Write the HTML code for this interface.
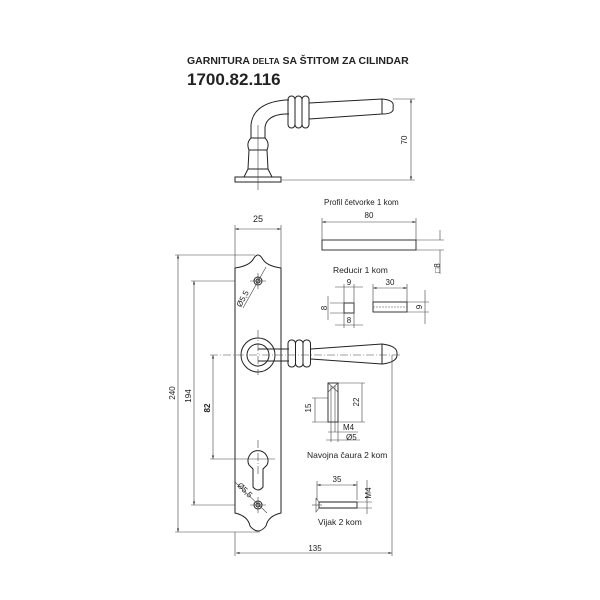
<!DOCTYPE html>
<html><head><meta charset="utf-8"><style>
body{margin:0;background:#fff}
svg{display:block}
text{font-family:"Liberation Sans",sans-serif;fill:#222}
.d{font-size:8px;fill:#444}
</style></head><body>
<svg width="600" height="600" viewBox="0 0 600 600" xmlns="http://www.w3.org/2000/svg">
<defs>
<marker id="a" viewBox="0 0 10 10" refX="10" refY="5" markerWidth="6" markerHeight="6" orient="auto-start-reverse"><path d="M0,2L10,5L0,8z" fill="#333"/></marker>
</defs>
<text x="187" y="64" font-size="10.5" font-weight="bold">GARNITURA <tspan font-size="8.5">DELTA</tspan> SA ŠTITOM ZA CILINDAR</text>
<text x="187" y="85" font-size="17" font-weight="bold">1700.82.116</text>

<g fill="none" stroke="#222" stroke-width="1">
<rect x="235" y="177" width="46" height="5"/>
<path d="M244,177 L248,169 L268,169 L272,177"/>
<path d="M248,169 L249,150 L267,150 L268,169"/>
<path d="M249,150 Q246,143 251,138 L265,138 Q270,143 267,150"/>
<path d="M251,138 L251,125 Q253,103 285,100 L289,100"/>
<path d="M265,138 L265,127 Q267,115 285,114 L289,114"/>
<rect x="288" y="96" width="7" height="32" rx="3.5"/>
<rect x="295" y="96" width="7" height="32" rx="3.5"/>
<rect x="302" y="96" width="7" height="32" rx="3.5"/>
<path d="M309,103 L382,99 L382,114 L309,119"/>
<path d="M382,99 Q395,100 393,107 Q395,114 382,114"/>

<path d="M235,268 Q250,266 254,258 Q258,252 262,258 Q266,266 281,268 L281,513 Q268,516 266,526 Q258,536 250,526 Q248,516 235,513 Z"/>
<circle cx="258" cy="281" r="4"/><circle cx="258" cy="281" r="2"/>
<circle cx="258" cy="505" r="4"/><circle cx="258" cy="505" r="2"/>
<path d="M258,459 m-9,6 A10,10 0 1 1 267,465 L263,469 L263,487 Q258,493 253,487 L253,469 Z"/>
<circle cx="258" cy="355" r="17"/><circle cx="258" cy="355" r="11"/>
<path d="M258,349 L289,349 M258,361 L289,361"/>
<rect x="288" y="340" width="7.5" height="27" rx="3.5"/>
<rect x="295.5" y="340" width="7.5" height="27" rx="3.5"/>
<rect x="303" y="340" width="7.5" height="27" rx="3.5"/>
<path d="M311,349 L382,344 L382,364 L311,359"/>
<path d="M382,344 Q398,346 397,354 Q398,362 382,364"/>
</g>

<g fill="none" stroke="#444" stroke-width="0.6">
<path d="M258,125 V190"/>
<path d="M411,99 V180" marker-start="url(#a)" marker-end="url(#a)"/>
<path d="M393,99 H415 M282,180 H415"/>
<path d="M235,268 V225 M281,268 V225"/>
<path d="M235,229 H281" marker-start="url(#a)" marker-end="url(#a)"/>
<path d="M178,255 V532" marker-start="url(#a)" marker-end="url(#a)"/>
<path d="M194,281 V505" marker-start="url(#a)" marker-end="url(#a)"/>
<path d="M213,355 V459" marker-start="url(#a)" marker-end="url(#a)"/>
<path d="M175,255 H255 M191,281 H235 M191,505 H235 M175,532 H260 M210,459 H275"/>
<path d="M210,355 H402 M258,330 V375" stroke-dasharray="8,2,1,2"/>
<path d="M258,440 V475" stroke-dasharray="8,2,1,2"/>
<path d="M250,281 H266 M258,273 V289 M250,505 H266 M258,497 V513"/>
<path d="M266,267 L243,308 M235,482 L267,513"/>
<path d="M235,532 V556 M392,355 V556"/>
<path d="M236,553 H392" marker-start="url(#a)" marker-end="url(#a)"/>

<rect x="322" y="240" width="94" height="10" stroke="#222" stroke-width="0.9"/>
<path d="M322,240 V218 M416,240 V218"/>
<path d="M322,222 H416" marker-start="url(#a)" marker-end="url(#a)"/>
<path d="M416,240 H444 M416,250 H444 M440,230 V240 M440,250 V274" />

<rect x="344" y="303" width="10" height="10" stroke="#222" stroke-width="0.9"/>
<path d="M344,303 V284 M354,303 V284 M335,287 H363 M344,313 V328 M354,313 V328 M335,325 H363 M330,303 H344 M330,313 H344 M328,296 V320"/>
<rect x="373" y="302" width="34" height="10" stroke="#222" stroke-width="0.9"/>
<path d="M373,307 H407" stroke-dasharray="2,1"/>
<path d="M373,302 V284 M407,302 V284"/>
<path d="M373,288 H407" marker-start="url(#a)" marker-end="url(#a)"/>
<path d="M407,302 H429 M407,312 H429 M425,290 V324"/>

<rect x="328" y="383" width="10" height="39" stroke="#222" stroke-width="0.9"/>
<path d="M331,386 V422 M335,386 V422"/>
<path d="M328,383 L338,392 M338,383 L328,392" />
<path d="M338,383 H365 M338,422 H365 M362,383 V422 M328,422 H312 M315,398 V422 M312,398 H328"/>
<path d="M331,422 V442 M335,422 V432 M328,432 H358 M338,422 V442 M326,440 H360"/>

<path d="M319,502 H357 V508 H319 Z" stroke="#222" stroke-width="0.9"/>
<path d="M316,498 V512 L319,508 M316,498 L319,502"/>
<path d="M312,505 H322"/>
<path d="M317,500 V481 M357,500 V481"/>
<path d="M317,485 H357" marker-start="url(#a)" marker-end="url(#a)"/>
<path d="M357,502 H372 M357,508 H372 M367,480 V514"/>
</g>

<g class="d">
<text x="403" y="144" transform="rotate(-90 403 140)" text-anchor="middle">70</text>
<text x="258" y="222" text-anchor="middle" font-size="9">25</text>
<text x="175" y="393" transform="rotate(-90 175 393)" text-anchor="middle">240</text>
<text x="191" y="396" transform="rotate(-90 191 396)" text-anchor="middle">194</text>
<text x="210" y="408" transform="rotate(-90 210 408)" text-anchor="middle" font-weight="bold" fill="#222">82</text>
<text x="245" y="300" transform="rotate(-62 245 300)" text-anchor="middle">Ø5,5</text>
<text x="243" y="492" transform="rotate(45 243 492)" text-anchor="middle">Ø5,5</text>
<text x="315" y="551" text-anchor="middle">135</text>
<text x="324" y="205">Profil četvorke 1 kom</text>
<text x="369" y="218" text-anchor="middle">80</text>
<text x="440" y="268" transform="rotate(-90 440 268)" text-anchor="middle">□8</text>
<text x="333" y="273" font-size="8.5">Reducir 1 kom</text>
<text x="349" y="285" text-anchor="middle">9</text>
<text x="349" y="323" text-anchor="middle">8</text>
<text x="327" y="308" transform="rotate(-90 327 308)" text-anchor="middle">8</text>
<text x="390" y="285" text-anchor="middle">30</text>
<text x="422" y="307" transform="rotate(-90 422 307)" text-anchor="middle">9</text>
<text x="311" y="408" transform="rotate(-90 311 408)" text-anchor="middle">15</text>
<text x="359" y="402" transform="rotate(-90 359 402)" text-anchor="middle">22</text>
<text x="343" y="430">M4</text>
<text x="346" y="440">Ø5</text>
<text x="307" y="458" font-size="8.5" fill="#222">Navojna čaura 2 kom</text>
<text x="337" y="482" text-anchor="middle">35</text>
<text x="371" y="493" transform="rotate(-90 371 493)" text-anchor="middle">M4</text>
<text x="318" y="525" font-size="8.5" fill="#222">Vijak 2 kom</text>
</g>
</svg>
</body></html>
